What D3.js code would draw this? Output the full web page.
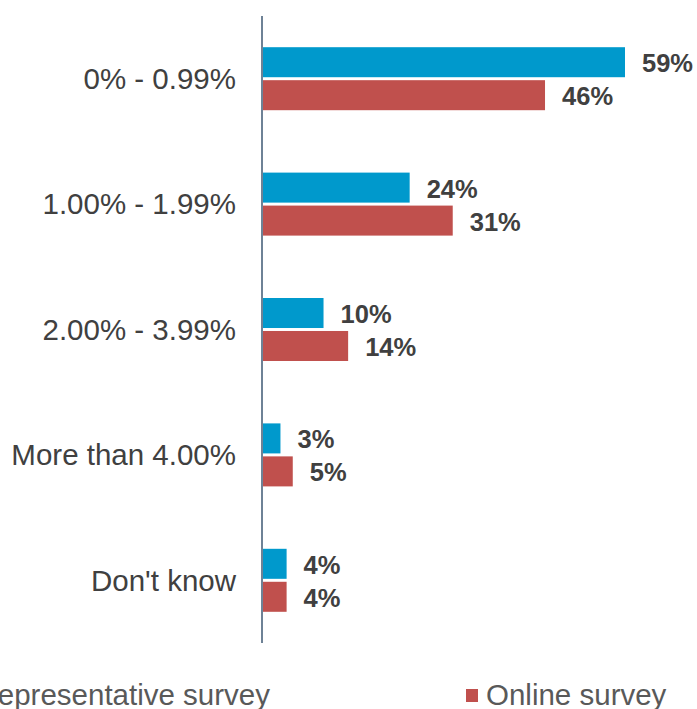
<!DOCTYPE html>
<html>
<head>
<meta charset="utf-8">
<script src="https://cdn.jsdelivr.net/npm/d3@7"></script>
<style>
  html, body { margin: 0; padding: 0; background: #fff; }
  svg { display: block; }
</style>
</head>
<body>
<svg id="chart" width="697" height="709"></svg>
<script>
// Interest rate brackets and the share of respondents in each survey
const categories = ["0% - 0.99%", "1.00% - 1.99%", "2.00% - 3.99%", "More than 4.00%", "Don't know"];
const seriesNames = ["Representative survey", "Online survey"];
const representative = [59, 24, 10, 3, 4];
const online = [46, 31, 14, 5, 4];
const seriesColors = ["#0099CC", "#C0504D"];

const svg = d3.select("#chart");
const fontFamily = "Liberation Sans, Arial, sans-serif";

const x0 = 262;
const x = d3.scaleLinear().domain([0, 59]).range([x0, 625]);
const y = d3.scaleBand().domain(categories).range([16, 643]);
const groupH = 63;
const ySub = d3.scaleBand().domain(seriesNames).range([0, groupH]).paddingInner(0.09);

const values = [representative, online];

const groups = svg.append("g").selectAll("g")
  .data(categories)
  .join("g")
  .attr("transform", d => `translate(0,${y(d) + (y.bandwidth() - groupH) / 2})`);

seriesNames.forEach((s, si) => {
  groups.append("rect")
    .attr("x", x0)
    .attr("y", ySub(s))
    .attr("width", (d, i) => x(values[si][i]) - x0)
    .attr("height", ySub.bandwidth())
    .attr("fill", seriesColors[si]);

  groups.append("text")
    .attr("x", (d, i) => x(values[si][i]) + 17)
    .attr("y", ySub(s) + ySub.bandwidth() / 2 + 1)
    .attr("dy", "0.35em")
    .attr("font-family", fontFamily)
    .attr("font-size", 25.5)
    .attr("font-weight", "bold")
    .attr("fill", "#404040")
    .text((d, i) => values[si][i] + "%");
});

// Category labels
svg.append("g").selectAll("text")
  .data(categories)
  .join("text")
  .attr("x", 236)
  .attr("y", d => y(d) + y.bandwidth() / 2)
  .attr("dy", "0.35em")
  .attr("text-anchor", "end")
  .attr("font-family", fontFamily)
  .attr("font-size", 29.5)
  .attr("fill", "#404040")
  .text(d => d);

// Vertical axis line
svg.append("line")
  .attr("x1", x0).attr("x2", x0)
  .attr("y1", 16).attr("y2", 643)
  .attr("stroke", "#6E8296")
  .attr("stroke-width", 2);

// Legend
const legendItems = [
  { name: seriesNames[0], color: seriesColors[0], textEnd: 270 },
  { name: seriesNames[1], color: seriesColors[1], textStart: 486 }
];
legendItems.forEach(item => {
  const t = svg.append("text")
    .attr("y", 705)
    .attr("font-family", fontFamily)
    .attr("font-size", 29.5)
    .attr("fill", "#595959")
    .text(item.name);
  const w = t.node().getComputedTextLength();
  const start = item.textStart !== undefined ? item.textStart : item.textEnd - w;
  t.attr("x", start);
  svg.append("rect")
    .attr("x", start - 20)
    .attr("y", 689)
    .attr("width", 12)
    .attr("height", 13)
    .attr("fill", item.color);
});
</script>
</body>
</html>
